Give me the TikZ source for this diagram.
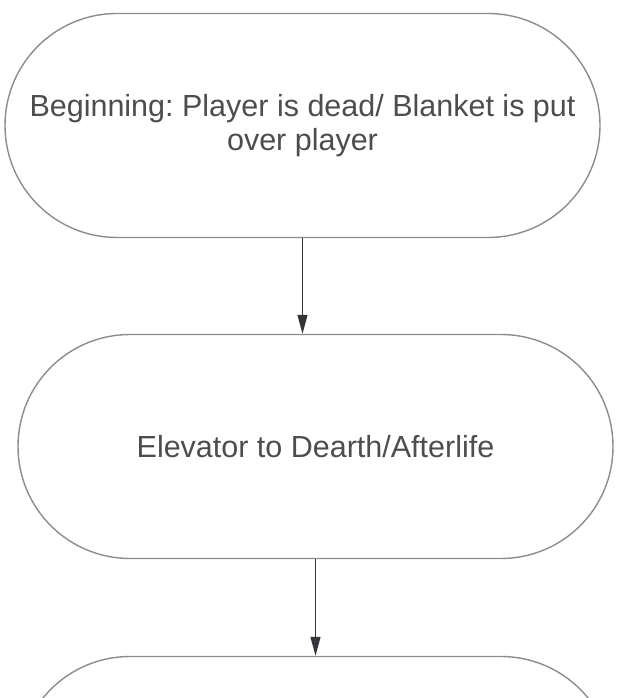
\documentclass[tikz,border=0pt]{standalone}
\usepackage{fontspec}
\setmainfont{Liberation Sans}
\usepackage{tikz}
\usetikzlibrary{arrows.meta}

\definecolor{linegray}{HTML}{8C8C8C}
\definecolor{textgray}{HTML}{4D4D4D}
\definecolor{arrowgray}{HTML}{33363B}

\begin{document}
\frenchspacing
\begin{tikzpicture}[x=1pt, y=1pt, node distance = 321pt]
  \tikzstyle{terminal} = [rectangle, rounded corners=112pt, minimum width=595pt, minimum height=224pt, align=center, draw=linegray, line width=1.4pt, text=textgray, font=\fontsize{30.5}{34.5}\selectfont]
  \tikzstyle{arrow} = [line width=1.3pt, draw=arrowgray!80, -{Triangle[width=10pt,length=19pt]}, arrowgray]
  \useasboundingbox (0,0) rectangle (616,698);
  \clip (0,0) rectangle (616,698);
  \node (b) [terminal] at (302.5,572.5) {\raisebox{3pt}{Beginning: Player is dead/ Blanket is put}\\\raisebox{3pt}{over player}};
  \node (e) [terminal, below of=b, xshift=13pt] {Elevator to Dearth/Afterlife};
  \node (n) [terminal, below of=e, yshift=-1pt] {};
  \draw [arrow] (b.south) -- (b.south |- e.north);
  \draw [arrow] (e.south) -- (n.north);
\end{tikzpicture}
\end{document}
